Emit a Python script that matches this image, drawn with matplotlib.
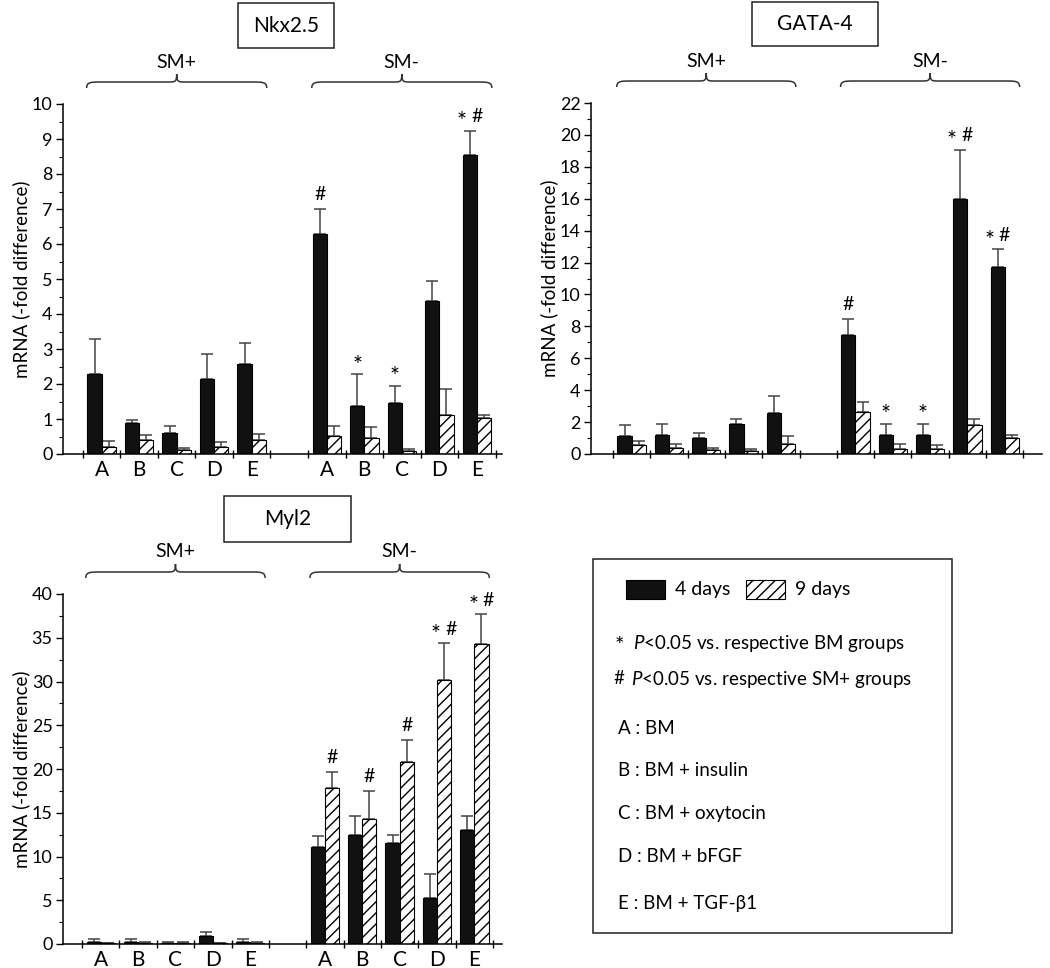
import matplotlib
matplotlib.use("Agg")
import matplotlib.pyplot as plt
import numpy as np
from matplotlib.patches import Rectangle, PathPatch
from matplotlib.path import Path
from matplotlib.ticker import MultipleLocator, FixedLocator, FixedFormatter, NullFormatter
import matplotlib.transforms as mtransforms

plt.rcParams['font.family'] = ['Lato', 'DejaVu Sans']
plt.rcParams['mathtext.fontset'] = 'custom'
plt.rcParams['mathtext.rm'] = 'Lato'
plt.rcParams['mathtext.it'] = 'Lato:italic'
plt.rcParams['hatch.linewidth'] = 1.0

# ---------------- data ----------------
groups = ["A", "B", "C", "D", "E"]
conditions = ["SM+", "SM-"]

# Nkx2.5 (SM+ A..E, then SM- A..E)
nkx_4d = [2.29, 0.88, 0.59, 2.14, 2.58, 6.28, 1.38, 1.45, 4.36, 8.53]
nkx_4d_err = [1.00, 0.09, 0.21, 0.72, 0.60, 0.72, 0.90, 0.49, 0.59, 0.71]
nkx_9d = [0.21, 0.40, 0.11, 0.19, 0.40, 0.52, 0.47, 0.08, 1.12, 1.04]
nkx_9d_err = [0.17, 0.14, 0.07, 0.14, 0.17, 0.29, 0.29, 0.07, 0.75, 0.08]
nkx_marks = [(5, 0, "#"), (6, 0, "*"), (7, 0, "*"), (9, 0, "* #")]

# GATA-4
gata_4d = [1.15, 1.19, 1.03, 1.90, 2.55, 7.47, 1.19, 1.19, 15.98, 11.69]
gata_4d_err = [0.67, 0.71, 0.27, 0.28, 1.11, 1.02, 0.71, 0.71, 3.08, 1.13]
gata_9d = [0.56, 0.40, 0.25, 0.17, 0.61, 2.61, 0.31, 0.31, 1.80, 0.98]
gata_9d_err = [0.28, 0.23, 0.15, 0.14, 0.52, 0.67, 0.32, 0.23, 0.38, 0.21]
gata_marks = [(5, 0, "#"), (6, 0, "*"), (7, 0, "*"), (8, 0, "* #"), (9, 0, "* #")]

# Myl2
myl_4d = [0.19, 0.27, 0.15, 0.92, 0.27, 11.14, 12.48, 11.60, 5.23, 13.05]
myl_4d_err = [0.34, 0.30, 0.08, 0.49, 0.30, 1.15, 2.10, 0.88, 2.82, 1.53]
myl_9d = [0.08, 0.15, 0.15, 0.08, 0.15, 17.86, 14.27, 20.80, 30.15, 34.31]
myl_9d_err = [0.07, 0.12, 0.08, 0.03, 0.12, 1.80, 3.21, 2.52, 4.20, 3.36]
myl_marks = [(5, 1, "#"), (6, 1, "#"), (7, 1, "#"), (8, 1, "* #"), (9, 1, "* #")]

legend_series = ["4 days", "9 days"]
legend_notes = ["$\\mathit{P}$<0.05 vs. respective BM groups",
                "$\\mathit{P}$<0.05 vs. respective SM+ groups"]
legend_groups = ["A : BM", "B : BM + insulin", "C : BM + oxytocin",
                 "D : BM + bFGF", "E : BM + TGF-\u03b21"]

W, H = 1050, 968
fig = plt.figure(figsize=(W / 100, H / 100), dpi=100)


def px_axes(x0, y_top, x1, y_bot):
    return fig.add_axes([x0 / W, 1 - y_bot / H, (x1 - x0) / W, (y_bot - y_top) / H])


# group centers: SM+ at 0.5..4.5, SM- at 6.5..10.5
centers = np.array([0.5, 1.5, 2.5, 3.5, 4.5, 6.5, 7.5, 8.5, 9.5, 10.5])
bw = 0.38


def brace(ax, x0, x1, y_end, y_base, y_peak, d=0.38, dm=0.22):
    tr = mtransforms.blended_transform_factory(ax.transData, ax.transAxes)
    xm = (x0 + x1) / 2
    verts = [(x0, y_end), (x0, y_base), (x0 + d * 0.3, y_base), (x0 + d, y_base),
             (xm - dm, y_base),
             (xm - dm * 0.2, y_base), (xm, y_base), (xm, y_peak),
             (xm, y_base), (xm + dm * 0.2, y_base), (xm + dm, y_base),
             (x1 - d, y_base),
             (x1 - d * 0.3, y_base), (x1, y_base), (x1, y_end)]
    codes = [Path.MOVETO, Path.CURVE4, Path.CURVE4, Path.CURVE4,
             Path.LINETO,
             Path.CURVE4, Path.CURVE4, Path.CURVE4,
             Path.CURVE4, Path.CURVE4, Path.CURVE4,
             Path.LINETO,
             Path.CURVE4, Path.CURVE4, Path.CURVE4]
    ax.add_patch(PathPatch(Path(verts, codes), transform=tr, fill=False,
                           lw=1.1, color='#333333', clip_on=False))


def panel(box, xlim, ylim, major, minor, v4, e4, v9, e9, marks, xlabels=True):
    ax = px_axes(*box)
    axh = box[3] - box[1]
    x4 = centers - bw / 2
    x9 = centers + bw / 2
    ax.bar(x4, v4, width=bw, color='#111111', edgecolor='black', lw=0.8, zorder=2)
    ax.bar(x9, v9, width=bw, color='white', edgecolor='black', hatch='///', lw=0.8, zorder=2)
    ax.errorbar(x4, v4, yerr=[np.zeros(len(v4)), e4], fmt='none', ecolor='#444444',
                elinewidth=1.1, capsize=4, capthick=1.1, zorder=1)
    ax.errorbar(x9, v9, yerr=[np.zeros(len(v9)), e9], fmt='none', ecolor='#444444',
                elinewidth=1.1, capsize=4, capthick=1.1, zorder=1)
    for gi, s, txt in marks:
        xc = x4[gi] if s == 0 else x9[gi]
        top = (v4[gi] + e4[gi]) if s == 0 else (v9[gi] + e9[gi])
        if txt == "* #":
            ax.annotate("*", (xc, top), xytext=(-6, -1), textcoords='offset points',
                        ha='center', va='bottom', fontsize=17)
            ax.annotate("#", (xc, top), xytext=(5, 4), textcoords='offset points',
                        ha='center', va='bottom', fontsize=14)
        elif txt == "*":
            ax.annotate("*", (xc, top), xytext=(0, -1), textcoords='offset points',
                        ha='center', va='bottom', fontsize=17)
        else:
            ax.annotate("#", (xc, top), xytext=(0, 4), textcoords='offset points',
                        ha='center', va='bottom', fontsize=14)
    ax.set_xlim(*xlim)
    ax.set_ylim(*ylim)
    for sp in ['top', 'right']:
        ax.spines[sp].set_visible(False)
    for sp in ['left', 'bottom']:
        ax.spines[sp].set_linewidth(1.1)
    ax.yaxis.set_major_locator(MultipleLocator(major))
    ax.yaxis.set_minor_locator(MultipleLocator(minor))
    ax.tick_params(axis='y', which='major', direction='out', length=5, width=1.0,
                   labelsize=13, pad=2.5)
    ax.tick_params(axis='y', which='minor', direction='out', length=3, width=0.8)
    ax.xaxis.set_major_locator(FixedLocator([0, 1, 2, 3, 4, 5, 6, 7, 8, 9, 10, 11]))
    ax.xaxis.set_major_formatter(NullFormatter())
    ax.xaxis.set_minor_locator(FixedLocator(centers))
    if xlabels:
        ax.xaxis.set_minor_formatter(FixedFormatter(groups * 2))
    else:
        ax.xaxis.set_minor_formatter(NullFormatter())
    ax.tick_params(axis='x', which='major', direction='inout', length=6, width=1.0)
    ax.tick_params(axis='x', which='minor', length=0, labelsize=15, pad=4)
    ax.set_ylabel("mRNA (-fold difference)", fontsize=13.5)
    axw = box[2] - box[0]
    ax.yaxis.set_label_coords(-33.0 / axw, 0.5)
    # braces and SM labels
    f = lambda p: 1 + p / axh
    brace(ax, 0.1, 4.9, f(16), f(22), f(30))
    brace(ax, 6.1, 10.9, f(16), f(22), f(30))
    tr = mtransforms.blended_transform_factory(ax.transData, ax.transAxes)
    ax.text(2.5, f(42), conditions[0], transform=tr, ha='center', va='center', fontsize=14)
    ax.text(8.5, f(42), conditions[1], transform=tr, ha='center', va='center', fontsize=14)
    return ax


ax1 = panel((63, 104, 502, 454), (-0.53, 11.17), (0, 10), 1, 0.5,
            nkx_4d, nkx_4d_err, nkx_9d, nkx_9d_err, nkx_marks)
ax2 = panel((591, 103, 1042, 454), (-0.59, 11.5), (0, 22), 2, 1,
            gata_4d, gata_4d_err, gata_9d, gata_9d_err, gata_marks, xlabels=False)
ax3 = panel((63, 594, 502, 944), (-0.51, 11.24), (0, 40), 5, 2.5,
            myl_4d, myl_4d_err, myl_9d, myl_9d_err, myl_marks)

# overlay for title boxes and legend (pixel coordinates)
ov = fig.add_axes([0, 0, 1, 1])
ov.set_xlim(0, W)
ov.set_ylim(H, 0)
ov.axis('off')


def titlebox(x0, y0, x1, y1, txt):
    ov.add_patch(Rectangle((x0, y0), x1 - x0, y1 - y0, fill=False, lw=1.1, ec='#222222'))
    ov.text((x0 + x1) / 2, (y0 + y1) / 2, txt, ha='center', va='center', fontsize=15)


titlebox(238, 3, 334, 48, "Nkx2.5")
titlebox(752, 2, 878, 46, "GATA-4")
titlebox(224, 496, 351, 542, "Myl2")

# legend box
ov.add_patch(Rectangle((593, 559), 952 - 593, 933 - 559, fill=False, lw=1.1, ec='#222222'))
ov.add_patch(Rectangle((626, 580), 39, 19, fc='#111111', ec='black', lw=0.8))
ov.text(675, 590, legend_series[0], ha='left', va='center', fontsize=14)
ov.add_patch(Rectangle((746, 580), 39, 19, fc='white', ec='black', hatch='///', lw=0.8))
ov.text(795, 590, legend_series[1], ha='left', va='center', fontsize=14)
ov.text(615, 646, "*", ha='left', va='center', fontsize=16)
ov.text(633, 643, legend_notes[0], ha='left', va='center', fontsize=13.5)
ov.text(614, 679, "#", ha='left', va='center', fontsize=13.5)
ov.text(631, 679, legend_notes[1], ha='left', va='center', fontsize=13.5)
for txt, yy in zip(legend_groups, [729, 770, 814, 857, 903]):
    ov.text(618, yy, txt, ha='left', va='center', fontsize=13.5)

fig.savefig("out.png", dpi=100)
